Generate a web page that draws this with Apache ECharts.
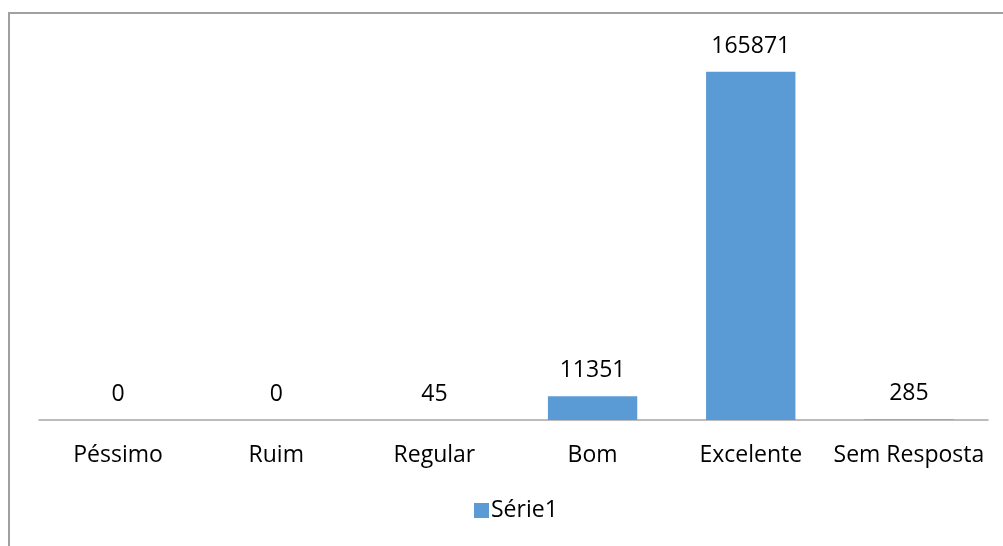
<!DOCTYPE html>
<html>
<head>
<meta charset="utf-8">
<script src="https://cdn.jsdelivr.net/npm/echarts@6/dist/echarts.min.js"></script>
<style>
html,body{margin:0;padding:0;background:#fff;}
#chart{width:1003px;height:546px;}
</style>
</head>
<body>
<div id="chart"></div>
<script>
const categories = ['Péssimo', 'Ruim', 'Regular', 'Bom', 'Excelente', 'Sem Resposta'];
const serie1 = [0, 0, 45, 11351, 165871, 285];
const seriesName = 'Série1';

const chart = echarts.init(document.getElementById('chart'));
const font = '"Open Sans", sans-serif';
chart.setOption({
  animation: false,
  textStyle: { fontFamily: font },
  graphic: [{
    type: 'rect',
    shape: { x: 9, y: 13, width: 1200, height: 700 },
    style: { fill: 'none', stroke: '#A0A0A0', lineWidth: 2 },
    silent: true
  }],
  grid: { left: 39, right: 15, top: 42, bottom: 126 },
  legend: {
    left: 474, top: 499, padding: 0,
    itemWidth: 15, itemHeight: 15, itemGap: 10,
    icon: 'rect',
    textStyle: { fontFamily: font, fontSize: 23, color: '#000', padding: [0, 0, 0, -3] },
    data: [seriesName]
  },
  xAxis: {
    type: 'category',
    data: categories,
    axisLine: { lineStyle: { color: '#A6A6A6', width: 1.5 } },
    axisTick: { show: false },
    axisLabel: { fontFamily: font, fontSize: 23, color: '#000', margin: 24, interval: 0 }
  },
  yAxis: {
    type: 'value',
    min: 0, max: 180000, interval: 20000,
    show: false,
    splitLine: { show: false }
  },
  series: [{
    name: seriesName,
    type: 'bar',
    data: serie1,
    barWidth: '56.5%',
    itemStyle: { color: '#5B9BD5' },
    label: { show: true, position: 'top', distance: 14, fontFamily: font, fontSize: 23, color: '#000' }
  }]
});
</script>
</body>
</html>
